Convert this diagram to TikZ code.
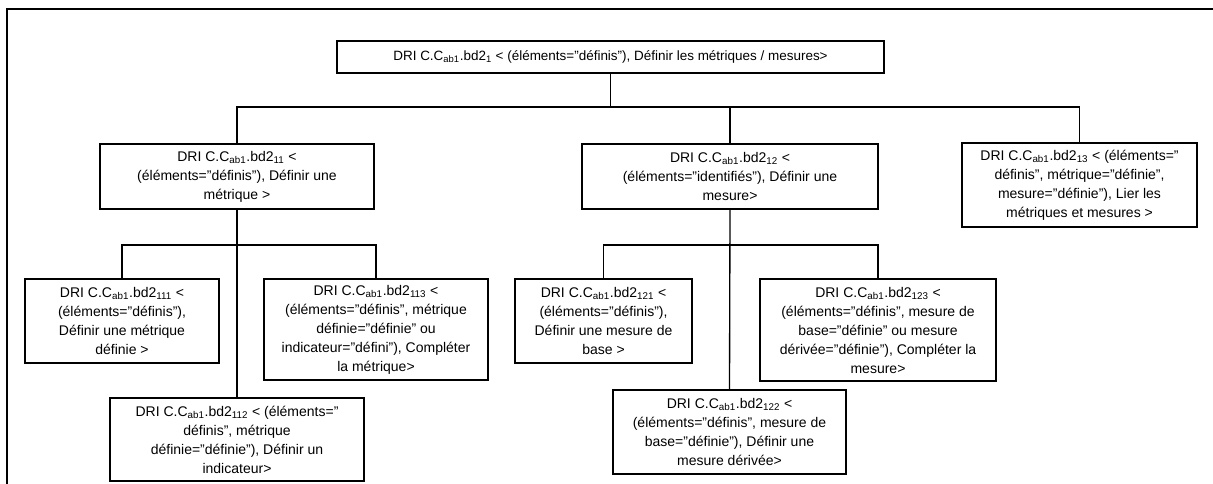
\documentclass[tikz,border=0pt]{standalone}
\usepackage{fontspec}
\setmainfont{Liberation Sans}
\usetikzlibrary{positioning}
\newcommand{\dri}[1]{DRI C.C\textsubscript{ab1}.bd2\textsubscript{#1}}
\tikzset{
  tache/.style 2 args={draw, line width=1pt, align=center, inner sep=0pt,
    minimum width=#1*0.75pt, minimum height=#2*0.75pt,
    font=\fontsize{10.5}{14.25}\selectfont},
  lien/.style={line width=1pt},
}
\begin{document}
\begin{tikzpicture}[x=0.75pt,y=-0.75pt]
  \useasboundingbox (0,0) rectangle (1213,484);
  % cadre
  \draw[line width=1pt] (7,484) -- (7,9) -- (1213,9);
  % niveau 1
  \node[tache={547}{32}, font=\fontsize{10.1}{14}\selectfont] (bd1) at (610.5,57)
    {\dri{1} < (éléments="définis"), Définir les métriques / mesures>};
  % niveau 2
  \node[tache={274}{65}] (bd11) at (237,176.5)
    {\dri{11} <\\(éléments="définis"), Définir une\\métrique >};
  \node[tache={296}{65}] (bd12) at (730,176.5)
    {\dri{12} <\\(éléments="identifiés"), Définir une\\mesure>};
  \node[tache={235}{84}] (bd13) at (1079.5,185)
    {\dri{13} < (éléments="\\définis", métrique="définie",\\mesure="définie"), Lier les\\métriques et mesures >};
  % niveau 3
  \node[tache={194}{84}] (bd111) at (122,321)
    {\dri{111} <\\(éléments="définis"),\\Définir une métrique\\définie >};
  \node[tache={224}{101}] (bd113) at (376,329.5)
    {\dri{113} <\\(éléments="définis", métrique\\définie="définie" ou\\indicateur="défini"), Compléter\\la métrique>};
  \node[tache={254}{83}] (bd112) at (237,439.5)
    {\dri{112} < (éléments="\\définis", métrique\\définie="définie"), Définir un\\indicateur>};
  \node[tache={177}{84}] (bd121) at (603.5,321)
    {\dri{121} <\\(éléments="définis"),\\Définir une mesure de\\base >};
  \node[tache={236}{102}] (bd123) at (878,330)
    {\dri{123} <\\(éléments="définis", mesure de\\base="définie" ou mesure\\dérivée="définie"), Compléter la\\mesure>};
  \node[tache={233}{84}] (bd122) at (729.5,432)
    {\dri{122} <\\(éléments="définis", mesure de\\base="définie"), Définir une\\mesure dérivée>};
  % liens
  \coordinate (j1) at (610,107);
  \coordinate (j11) at (237,245);
  \coordinate (j12) at (730,245);
  \draw[lien] (bd1.south) -- (bd1.south |- j1);
  \draw[lien] (bd11.north) -- (bd11.north |- j1) -- (bd13.north |- j1) -- (bd13.north);
  \draw[lien] (bd12.north) -- (bd12.north |- j1);
  \draw[lien] (bd11.south) -- (bd112.north);
  \draw[lien] (bd111.north) -- (bd111.north |- j11) -- (bd113.north |- j11) -- (bd113.north);
  \draw[lien] (bd12.south) -- (bd122.north);
  \draw[lien] (bd121.north) -- (bd121.north |- j12) -- (bd123.north |- j12) -- (bd123.north);
\end{tikzpicture}
\end{document}
